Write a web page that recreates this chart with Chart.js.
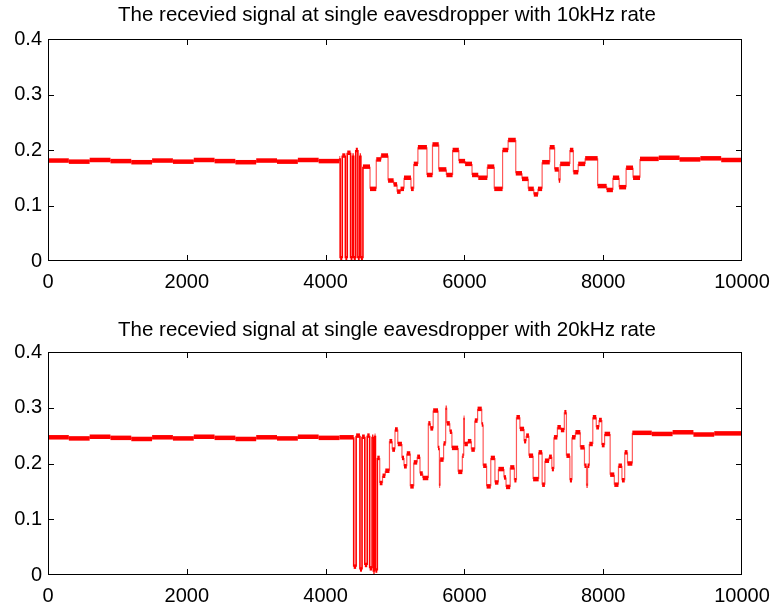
<!DOCTYPE html>
<html>
<head>
<meta charset="utf-8">
<script src="https://cdn.jsdelivr.net/npm/chart.js@4.4.0/dist/chart.umd.min.js"></script>
<style>
    body { margin: 0; background: #fff; }
    #wrap { position: relative; width: 773px; height: 606px; }
    canvas { position: absolute; left: 0; }
</style>
</head>
<body>
<div id="wrap">
    <canvas id="chart10" width="773" height="303" style="top:0"></canvas>
    <canvas id="chart20" width="773" height="303" style="top:303px"></canvas>
</div>
<script>
const xTicks = [0, 2000, 4000, 6000, 8000, 10000];
const yTicks = [0, 0.1, 0.2, 0.3, 0.4];
const lastSample = 10000;

// 10kHz: each level holds from its start sample up to the next start
const starts10 = [
    0, 300, 600, 900, 1200, 1500, 1800, 2100, 2400, 2700, 3000, 3300, 3600, 3900,
    4200, 4210, 4240, 4285, 4312, 4360, 4387, 4405, 4435, 4465, 4492, 4508, 4538,
    4640, 4730, 4800, 4900, 4980, 5030, 5080, 5130, 5230, 5270, 5330, 5460, 5540, 5630, 5740, 5830, 5920, 6010, 6110, 6200, 6330, 6430,
    6550, 6630, 6740, 6830, 6920, 7000, 7060, 7120, 7230, 7300, 7360, 7380, 7520, 7570, 7640, 7740, 7920, 8050, 8140, 8230, 8330, 8430,
    8530, 8800, 9100, 9400, 9700
];
const levels10 = [
    0.181, 0.179, 0.182, 0.180, 0.178, 0.181, 0.179, 0.182, 0.180, 0.178, 0.181, 0.179, 0.182, 0.180,
    0.185, 0.005, 0.19, 0.005, 0.195, 0.005, 0.19, 0.005, 0.2, 0.005, 0.19, 0.005, 0.17,
    0.13, 0.183, 0.19, 0.145, 0.138, 0.125, 0.13, 0.15, 0.13, 0.175, 0.205, 0.155, 0.21, 0.165, 0.155, 0.2, 0.18, 0.175, 0.155, 0.15, 0.17, 0.13,
    0.2, 0.218, 0.158, 0.148, 0.13, 0.12, 0.13, 0.178, 0.205, 0.165, 0.145, 0.175, 0.2, 0.16, 0.175, 0.185, 0.135, 0.128, 0.15, 0.133, 0.168, 0.15,
    0.184, 0.186, 0.183, 0.185, 0.182
];

// 20kHz
const starts20 = [
    0, 300, 600, 900, 1200, 1500, 1800, 2100, 2400, 2700, 3000, 3300, 3600, 3900, 4200,
    4405, 4440, 4495, 4525, 4565, 4600, 4635, 4670, 4688, 4707, 4718,
    4745, 4780, 4820, 4860, 4920, 4960, 5000, 5040, 5100, 5130, 5170, 5220, 5270, 5320, 5360, 5400, 5480, 5510, 5550, 5620,
    5640, 5650, 5700, 5730, 5745, 5790, 5820, 5910, 5970, 5990, 6000, 6050, 6100, 6150, 6190, 6250, 6270, 6320, 6380, 6440,
    6490, 6570, 6600, 6660, 6720, 6750, 6800, 6860, 6890, 6930, 6990, 7070, 7120, 7160, 7220, 7260, 7290, 7340, 7390, 7440,
    7470, 7520, 7550, 7600, 7670, 7730, 7760, 7775, 7800, 7850, 7900, 7940, 7980, 8020, 8100, 8160, 8220, 8270, 8310, 8350,
    8420, 8700, 9000, 9300, 9600
];
const levels20 = [
    0.247, 0.245, 0.248, 0.246, 0.244, 0.247, 0.245, 0.248, 0.246, 0.244, 0.247, 0.245, 0.248, 0.246, 0.247,
    0.015, 0.25, 0.01, 0.248, 0.018, 0.25, 0.012, 0.248, 0.006, 0.25, 0.008,
    0.21, 0.165, 0.178, 0.187, 0.24, 0.225, 0.261, 0.235, 0.21, 0.195, 0.218, 0.159, 0.202, 0.212, 0.182, 0.174, 0.272, 0.263, 0.295, 0.228,
    0.16, 0.207, 0.236, 0.3, 0.272, 0.257, 0.228, 0.185, 0.214, 0.282, 0.235, 0.24, 0.225, 0.277, 0.298, 0.27, 0.196, 0.159, 0.21, 0.166,
    0.19, 0.175, 0.158, 0.193, 0.17, 0.283, 0.262, 0.24, 0.25, 0.214, 0.172, 0.22, 0.162, 0.205, 0.212, 0.19, 0.247, 0.265, 0.26, 0.292,
    0.214, 0.17, 0.247, 0.256, 0.229, 0.196, 0.16, 0.196, 0.235, 0.283, 0.265, 0.278, 0.233, 0.253, 0.18, 0.162, 0.196, 0.17, 0.22, 0.2,
    0.255, 0.253, 0.256, 0.252, 0.254
];

Chart.defaults.font.family = '"Liberation Sans", Arial, Helvetica, sans-serif';
Chart.defaults.font.size = 20;
Chart.defaults.color = '#000';

function stepPoints(starts, levels) {
    const pts = [];
    starts.forEach((s, i) => {
        const end = i + 1 < starts.length ? starts[i + 1] : lastSample;
        pts.push({x: s, y: levels[i]}, {x: end, y: levels[i]});
    });
    return pts;
}

function isJump(ctx) {
    return ctx.p0.parsed.x === ctx.p1.parsed.x;
}

function isDropout(ctx) {
    return Math.min(ctx.p0.parsed.y, ctx.p1.parsed.y) < 0.03;
}

// box + inward ticks + title, matlab style (1px rects so they stay crisp)
const frame = {
    id: 'frame',
    afterDatasetsDraw(chart, args, opts) {
        const {ctx, chartArea: a, scales} = chart;
        const L = Math.round(a.left), R = Math.round(a.right) - 1;
        const T = Math.round(a.top), B = Math.round(a.bottom) - 1;
        ctx.save();
        ctx.fillStyle = '#000';
        ctx.fillRect(L, T, R - L + 1, 1);
        ctx.fillRect(L, B, R - L + 1, 1);
        ctx.fillRect(L, T, 1, B - T + 1);
        ctx.fillRect(R, T, 1, B - T + 1);
        xTicks.forEach(v => {
            const px = Math.min(Math.round(scales.x.getPixelForValue(v)), R);
            ctx.fillRect(px, B - 5, 1, 5);
            ctx.fillRect(px, T + 1, 1, 5);
        });
        yTicks.forEach(v => {
            const py = Math.min(Math.round(scales.y.getPixelForValue(v)), B);
            ctx.fillRect(L + 1, py, 5, 1);
            ctx.fillRect(R - 5, py, 5, 1);
        });
        ctx.restore();
    },
    afterDraw(chart, args, opts) {
        const ctx = chart.ctx;
        ctx.save();
        ctx.fillStyle = '#000';
        ctx.font = '20.5px "Liberation Sans", Arial, sans-serif';
        ctx.textAlign = 'center';
        ctx.textBaseline = 'alphabetic';
        ctx.fillText(opts.title, opts.titleX, opts.titleY);
        ctx.restore();
    }
};

function makeChart(id, starts, levels, title, box) {
    const H = 303;
    return new Chart(document.getElementById(id), {
        type: 'line',
        data: {
            datasets: [{
                data: stepPoints(starts, levels),
                borderColor: '#ff0000',
                borderWidth: 4.5,
                pointRadius: 0,
                tension: 0,
                clip: 3,
                segment: {
                    borderWidth: ctx => isJump(ctx) ? (isDropout(ctx) ? 1.6 : 1.2) : 4.5,
                    borderColor: ctx => isJump(ctx) && !isDropout(ctx) ? 'rgba(255, 0, 0, 0.65)' : '#ff0000'
                }
            }]
        },
        options: {
            responsive: false,
            animation: false,
            devicePixelRatio: 1,
            layout: {
                autoPadding: false,
                padding: {top: box.top, right: 773 - box.right, bottom: 0, left: 0}
            },
            plugins: {
                legend: {display: false},
                tooltip: {enabled: false},
                frame: {title: title, titleX: 387, titleY: box.titleY}
            },
            scales: {
                x: {
                    type: 'linear',
                    min: 0,
                    max: 10000,
                    afterBuildTicks: s => { s.ticks = xTicks.map(v => ({value: v})); },
                    afterFit: s => {
                        s.height = H - box.bottom;
                        s.paddingLeft = 0;
                        s.paddingRight = 0;
                    },
                    grid: {display: false, drawTicks: false},
                    border: {display: false},
                    ticks: {
                        padding: 9,
                        maxRotation: 0,
                        callback: v => String(v)
                    }
                },
                y: {
                    min: 0,
                    max: 0.4,
                    afterBuildTicks: s => { s.ticks = yTicks.map(v => ({value: v})); },
                    afterFit: s => {
                        s.width = box.left;
                        s.paddingTop = 0;
                        s.paddingBottom = 0;
                    },
                    grid: {display: false, drawTicks: false},
                    border: {display: false},
                    ticks: {
                        padding: 6,
                        callback: v => String(v)
                    }
                }
            }
        },
        plugins: [frame]
    });
}

makeChart('chart10', starts10, levels10,
    'The recevied signal at single eavesdropper with 10kHz rate',
    {left: 48, right: 742, top: 39, bottom: 261, titleY: 21});
makeChart('chart20', starts20, levels20,
    'The recevied signal at single eavesdropper with 20kHz rate',
    {left: 48, right: 742, top: 49, bottom: 272, titleY: 33});
</script>
</body>
</html>
